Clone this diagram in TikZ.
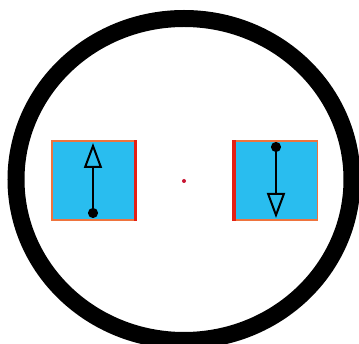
\documentclass[tikz,border=0pt]{standalone}
\usepackage{xcolor}
\usepackage{tikz}
\usetikzlibrary{arrows.meta}

\definecolor{plateblue}{RGB}{41,189,239}
\definecolor{plateedge}{RGB}{238,116,62}
\definecolor{platered}{RGB}{228,32,20}
\definecolor{centerdot}{RGB}{200,20,50}

\begin{document}
\begin{tikzpicture}[
    x=1pt, y=-1pt,
    plate/.style={draw=plateedge, line width=1.2pt, fill=plateblue, minimum width=83pt, minimum height=79pt, inner sep=0pt},
    edge_red/.style={draw=platered, line width=3.5pt},
    spin/.style={line width=2pt, {Circle[length=10pt]}-{Triangle[open, length=25pt, width=18pt, line width=2pt]}},
    cdot/.style={circle, fill=centerdot, inner sep=0pt, minimum size=4pt}
]
\useasboundingbox (0,0) rectangle (359,344);
\fill[white] (0,0) rectangle (359,344);

% Ring
\draw[line width=17pt] (184,179.5) ellipse [x radius=168, y radius=161];

% Nodes
\node[plate] (lplate) at (93.5,180.5) {};
\node[plate] (rplate) at (276,180.5) {};
\node[cdot] (ctr) at (184,181) {};

% Red edges
\draw[edge_red] (lplate.north east) -- (lplate.south east);
\draw[edge_red] (rplate.north west) -- (rplate.south west);

% Spins
\coordinate (lbot) at (93,218);
\coordinate (ltop) at (93,143);
\coordinate (rtop) at (276,142);
\coordinate (rbot) at (276,218);
\draw[spin] (lbot) -- (ltop);
\draw[spin] (rtop) -- (rbot);

\end{tikzpicture}
\end{document}
